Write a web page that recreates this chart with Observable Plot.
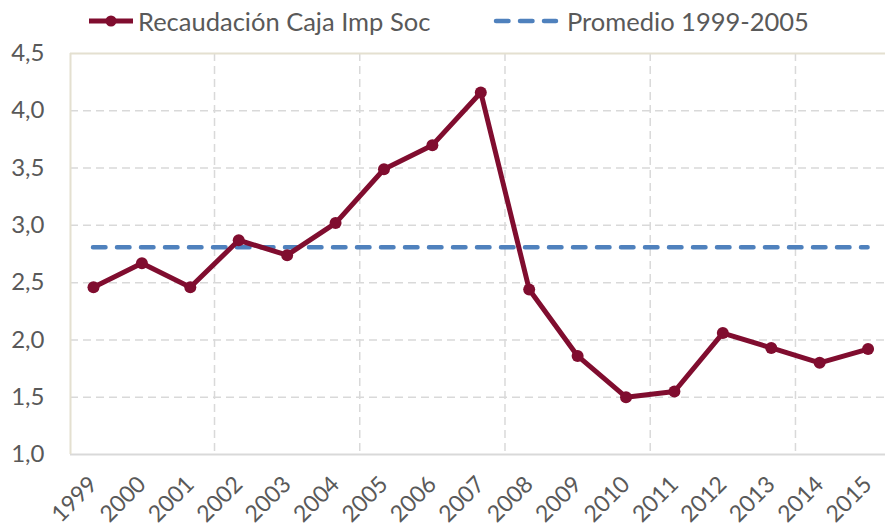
<!DOCTYPE html>
<html><head><meta charset="utf-8">
<script src="https://cdn.jsdelivr.net/npm/d3@7"></script>
<script src="https://cdn.jsdelivr.net/npm/@observablehq/plot@0.6"></script>
<style>
body{margin:0;background:#fff;font-family:Lato,"Open Sans",sans-serif;}
#legend{height:42px;position:relative;font-size:25.5px;color:#595959;width:885px;}
.item{position:absolute;top:5px;height:32px;display:flex;align-items:center;white-space:nowrap;}
.item svg{margin-right:4px;}
</style></head><body>
<div id="legend"></div>
<div id="chart"></div>
<script>
const years = [1999,2000,2001,2002,2003,2004,2005,2006,2007,2008,2009,2010,2011,2012,2013,2014,2015];
const recaudacion = [2.46,2.67,2.46,2.87,2.74,3.02,3.49,3.70,4.16,2.44,1.86,1.50,1.55,2.06,1.93,1.80,1.92];
const promedio = 2.81;
const promedioSpan = [1999, 2015];
const yTicks = [1.0,1.5,2.0,2.5,3.0,3.5,4.0,4.5];
const xGridYears = [2001.5,2004.5,2007.5,2010.5,2013.5];
const seriesNames = ["Recaudación Caja Imp Soc","Promedio 1999-2005"];

const maroon = "#800d2f", blue = "#4f81bd";
const data = years.map((y,i)=>({year:y, value:recaudacion[i]}));
const fmt = d => d.toFixed(1).replace(".", ",");
const xDomain = [1998.525, 2015.36];

// legend
const legend = document.getElementById("legend");
legend.innerHTML = `
<div class="item" style="left:88px"><svg width="46" height="14"><line x1="1" y1="7" x2="45" y2="7" stroke="${maroon}" stroke-width="5"/><circle cx="23" cy="7" r="5.5" fill="${maroon}"/></svg><span>${seriesNames[0]}</span></div>
<div class="item" style="left:493px"><svg width="66" height="14"><line x1="3" y1="7" x2="63" y2="7" stroke="${blue}" stroke-width="4.5" stroke-linecap="round" stroke-dasharray="12.5,11.5"/></svg><span style="margin-left:4px">${seriesNames[1]}</span></div>`;

const chart = Plot.plot({
  width: 885, height: 486,
  marginTop: 11, marginBottom: 74, marginLeft: 70, marginRight: 0,
  x: {domain: xDomain, label: null},
  y: {domain: [1, 4.5], label: null},
  style: {fontFamily: "Lato, 'Open Sans', sans-serif", fontSize: "24px", color: "#595959", background: "#fff", overflow: "visible"},
  marks: [
    Plot.ruleY(yTicks.filter(d => d > 1 && d < 4.5), {stroke: "#d9d9d9", strokeWidth: 1.5, strokeDasharray: "8,5"}),
    Plot.ruleX(xGridYears, {stroke: "#d9d9d9", strokeWidth: 1.5, strokeDasharray: "8,5"}),
    Plot.ruleY([4.5], {stroke: "#e4e0d0", strokeWidth: 2}),
    Plot.ruleY([1], {stroke: "#d9d9d9", strokeWidth: 2}),
    Plot.ruleX([xDomain[0]], {stroke: "#e4e0d0", strokeWidth: 2}),
    Plot.axisY({ticks: yTicks, tickFormat: fmt, tickSize: 0, tickPadding: 26, fill: "#595959", label: null}),
    Plot.axisX({ticks: years, tickFormat: d => String(d), tickRotate: -45, tickSize: 0, tickPadding: 26, fontSize: 23, fill: "#595959", label: null}),
    Plot.ruleY([promedio], {x1: promedioSpan[0], x2: promedioSpan[1], stroke: blue, strokeWidth: 4.5, strokeDasharray: "12.5,11.5", strokeLinecap: "round"}),
    Plot.line(data, {x: "year", y: "value", stroke: maroon, strokeWidth: 5, strokeLinejoin: "round"}),
    Plot.dot(data, {x: "year", y: "value", r: 6, fill: maroon})
  ]
});
document.getElementById("chart").appendChild(chart);
</script>
</body></html>
